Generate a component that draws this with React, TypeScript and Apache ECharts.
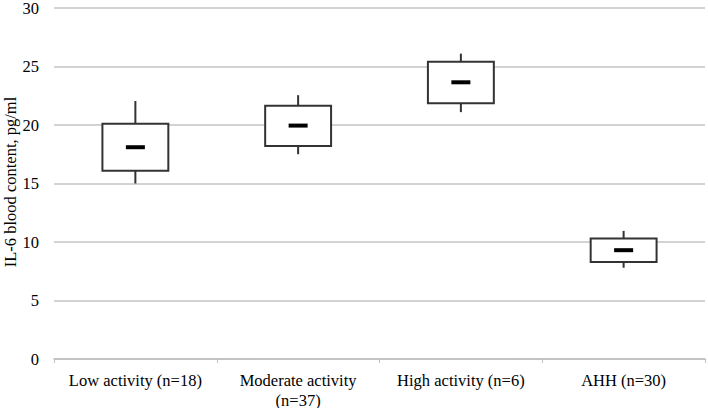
import React, { useEffect, useRef } from "react";
import * as echarts from "echarts";

const categories = ["Low activity (n=18)", "Moderate activity\n(n=37)", "High activity (n=6)", "AHH (n=30)"];
const whiskerLow = [15.0, 17.5, 21.1, 7.8];
const q1 = [16.1, 18.2, 21.85, 8.3];
const median = [18.1, 19.95, 23.65, 9.3];
const q3 = [20.1, 21.65, 25.4, 10.3];
const whiskerHigh = [22.05, 22.55, 26.1, 10.95];
const yTicks = { min: 0, max: 30, interval: 5 };
const yTitle = "IL-6 blood content, pg/ml";

export default function App() {
  const ref = useRef<HTMLDivElement>(null);
  useEffect(() => {
    const chart = echarts.init(ref.current!, null, { renderer: "svg" });
    const data = categories.map((_, i) => [i, whiskerLow[i], q1[i], median[i], q3[i], whiskerHigh[i]]);
    const font = "'Liberation Serif', 'Times New Roman', serif";
    chart.setOption({
      animation: false,
      backgroundColor: "#fff",
      grid: { left: 54, right: 3, top: 8, bottom: 49, containLabel: false, outerBoundsMode: "none" },
      graphic: [
        {
          type: "text",
          x: 10,
          y: 182,
          rotation: Math.PI / 2,
          style: {
            text: yTitle,
            fill: "#000",
            fontFamily: font,
            fontSize: 16.5,
            align: "center",
            verticalAlign: "middle",
          },
        },
      ],
      xAxis: {
        type: "category",
        data: categories,
        boundaryGap: true,
        axisLine: { lineStyle: { color: "#bfbfbf", width: 1.5 } },
        axisTick: { show: true, length: 4, lineStyle: { color: "#bfbfbf" } },
        axisLabel: { color: "#000", fontFamily: font, fontSize: 16.5, margin: 11, lineHeight: 20, interval: 0 },
      },
      yAxis: {
        type: "value",
        min: yTicks.min,
        max: yTicks.max,
        interval: yTicks.interval,
        axisLine: { show: false },
        axisTick: { show: false },
        axisLabel: { color: "#000", fontFamily: font, fontSize: 16.5, margin: 15, lineHeight: 14, padding: [2, 0, 0, 0] },
        splitLine: { lineStyle: { color: "#c4c4c4", width: 1.5 } },
      },
      series: [
        {
          type: "custom",
          data,
          renderItem: (params: any, api: any) => {
            const x = api.value(0);
            const pLo = api.coord([x, api.value(1)]);
            const pQ1 = api.coord([x, api.value(2)]);
            const pMed = api.coord([x, api.value(3)]);
            const pQ3 = api.coord([x, api.value(4)]);
            const pHi = api.coord([x, api.value(5)]);
            const band = api.size([1, 0])[0];
            const w = band * 0.405;
            const mw = 19;
            const cx = pQ1[0];
            const stroke = { stroke: "#333", lineWidth: 2 };
            return {
              type: "group",
              children: [
                { type: "line", shape: { x1: cx, y1: pHi[1], x2: cx, y2: pQ3[1] }, style: stroke },
                { type: "line", shape: { x1: cx, y1: pQ1[1], x2: cx, y2: pLo[1] }, style: stroke },
                {
                  type: "rect",
                  shape: { x: cx - w / 2, y: pQ3[1], width: w, height: pQ1[1] - pQ3[1] },
                  style: { fill: "#fff", stroke: "#333", lineWidth: 2 },
                },
                {
                  type: "line",
                  shape: { x1: cx - mw / 2, y1: pMed[1], x2: cx + mw / 2, y2: pMed[1] },
                  style: { stroke: "#000", lineWidth: 4 },
                },
              ],
            };
          },
        },
      ],
    });
    return () => chart.dispose();
  }, []);
  return <div ref={ref} style={{ position: "absolute", left: 0, top: 0, width: 708, height: 408 }} />;
}
